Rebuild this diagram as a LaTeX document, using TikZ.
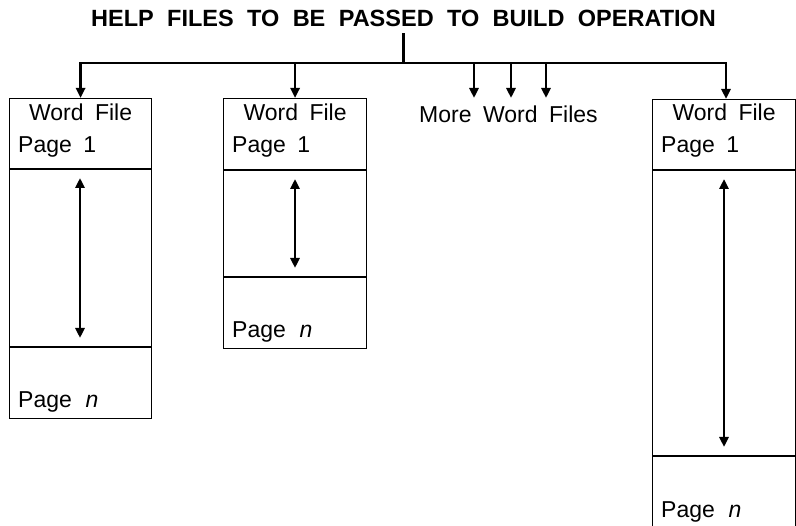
\documentclass[tikz,border=0pt]{standalone}
\usepackage{fontspec}
\setmainfont{Liberation Sans}
\usetikzlibrary{arrows.meta}
\newcommand\lblfont{\fontsize{23}{27}\selectfont\spaceskip=0.5em\relax}
\newcommand\ttlfont{\fontsize{23.5}{27}\selectfont\bfseries\spaceskip=0.57em\relax}
\begin{document}
\begin{tikzpicture}[x=1pt,y=-1pt,
  boxframe/.style={draw, line width=1.2pt, inner sep=0pt, anchor=north west},
  divider/.style={line width=1.2pt},
  flow/.style={line width=2.7pt, -{Triangle[length=10pt,width=9pt]}},
  twoway/.style={line width=2.7pt, {Triangle[length=10pt,width=9pt]}-{Triangle[length=10pt,width=9pt]}},
  trunkline/.style={line width=2.7pt},
  lbl/.style={inner sep=0pt, font={\lblfont}},
  titletext/.style={inner sep=0pt, font={\ttlfont}},
]
\useasboundingbox (0,0) rectangle (796,526);
\clip (0,0) rectangle (796,526);

% title
\node[titletext, anchor=base] (title) at (403.5,27) {HELP FILES TO BE PASSED TO BUILD OPERATION};
\coordinate (bar) at (0,63);

% boxes
\node[boxframe, minimum width=142pt, minimum height=320pt] (b1) at (9,98) {};
\node[boxframe, minimum width=143pt, minimum height=250pt] (b2) at (223,98) {};
\node[boxframe, minimum width=143pt, minimum height=441pt] (b3) at (652,99) {};

% dividers
\draw[divider] (b1.west |- 0,169) -- (b1.east |- 0,169);
\draw[divider] (b1.west |- 0,347) -- (b1.east |- 0,347);
\draw[divider] (b2.west |- 0,170) -- (b2.east |- 0,170);
\draw[divider] (b2.west |- 0,277) -- (b2.east |- 0,277);
\draw[divider] (b3.west |- 0,170) -- (b3.east |- 0,170);
\draw[divider] (b3.west |- 0,456) -- (b3.east |- 0,456);

% labels
\node[lbl, anchor=base] (w1) at (b1.north |- 0,121) {Word File};
\node[lbl, anchor=base west] (p11) at (18,153) {Page 1};
\node[lbl, anchor=base west] (p1n) at (18,408) {Page\hspace{0.6em}\textit{n}};

\node[lbl, anchor=base] (w2) at (b2.north |- 0,121) {Word File};
\node[lbl, anchor=base west] (p21) at (232,153) {Page 1};
\node[lbl, anchor=base west] (p2n) at (232,338) {Page\hspace{0.6em}\textit{n}};

\node[lbl, anchor=base] (w3) at (b3.north |- 0,121) {Word File};
\node[lbl, anchor=base west] (p31) at (661,153) {Page 1};
\node[lbl, anchor=base west] (p3n) at (661,518) {Page\hspace{0.6em}\textit{n}};

\node[lbl, anchor=base west] (more) at (419,123) {More Word Files};

% distribution lines
\coordinate (drop3) at (726,99);
\draw[trunkline] ([yshift=-6pt]title.south) -- (title.south |- bar);
\draw[twoway] (b1.north) -- (b1.north |- bar) -- (drop3 |- bar) -- (drop3);
\draw[flow] (b2.north |- bar) -- (b2.north);
\coordinate (m1) at (474,98);
\coordinate (m2) at (511,98);
\coordinate (m3) at (546,98);
\draw[flow] (m1 |- bar) -- (m1);
\draw[flow] (m2 |- bar) -- (m2);
\draw[flow] (m3 |- bar) -- (m3);

% page-range arrows
\coordinate (b1t) at (80,178);
\coordinate (b1b) at (80,338);
\coordinate (b2t) at (295,179);
\coordinate (b2b) at (295,268);
\coordinate (b3t) at (724,179);
\coordinate (b3b) at (724,447);
\draw[twoway] (b1t) -- (b1b);
\draw[twoway] (b2t) -- (b2b);
\draw[twoway] (b3t) -- (b3b);
\end{tikzpicture}
\end{document}
